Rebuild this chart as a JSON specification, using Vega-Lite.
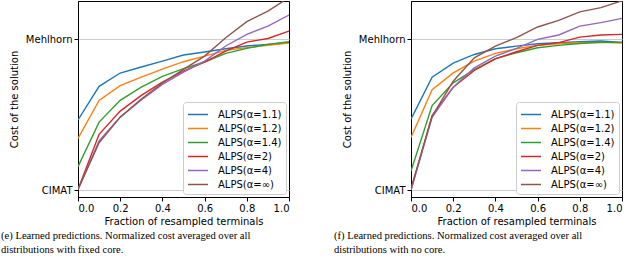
{
  "$schema": "https://vega.github.io/schema/vega-lite/v6.json",
  "padding": {"left": 0, "top": 0, "right": 5, "bottom": 0},
  "background": "white",
  "config": {
    "font": "DejaVu Sans",
    "view": {"stroke": "black", "strokeWidth": 1},
    "axis": {
      "domainColor": "black", "tickColor": "black", "labelColor": "black", "titleColor": "black",
      "labelFontSize": 10, "titleFontSize": 10, "titleFontWeight": "normal", "tickSize": 4,
      "labelPadding": 2, "grid": false, "labelFont": "DejaVu Sans", "titleFont": "DejaVu Sans"
    },
    "legend": {
      "orient": "bottom-right", "offset": 3, "padding": 4, "strokeColor": "#cccccc", "fillColor": "white",
      "cornerRadius": 3, "symbolType": "M-1,0H1.67", "symbolSize": 225, "symbolStrokeWidth": 1.5,
      "labelFontSize": 10, "labelFont": "DejaVu Sans", "labelColor": "black", "rowPadding": 0, "labelOffset": 14, "title": null
    },
    "title": {"font": "Liberation Serif", "fontSize": 10.6, "fontWeight": "normal", "color": "black", "orient": "bottom", "anchor": "start", "frame": "group", "dx": -77, "offset": 5, "lineHeight": 14}
  },
  "datasets": {
    "d": [
      {"p":"e","s":"ALPS(α=1.1)","x":0,"y":0.464},{"p":"e","s":"ALPS(α=1.1)","x":0.1,"y":0.687},{"p":"e","s":"ALPS(α=1.1)","x":0.2,"y":0.775},{"p":"e","s":"ALPS(α=1.1)","x":0.3,"y":0.815},{"p":"e","s":"ALPS(α=1.1)","x":0.4,"y":0.854},{"p":"e","s":"ALPS(α=1.1)","x":0.5,"y":0.894},{"p":"e","s":"ALPS(α=1.1)","x":0.6,"y":0.914},{"p":"e","s":"ALPS(α=1.1)","x":0.7,"y":0.936},{"p":"e","s":"ALPS(α=1.1)","x":0.8,"y":0.954},{"p":"e","s":"ALPS(α=1.1)","x":0.9,"y":0.965},{"p":"e","s":"ALPS(α=1.1)","x":1.0,"y":0.978},
      {"p":"e","s":"ALPS(α=1.2)","x":0,"y":0.342},{"p":"e","s":"ALPS(α=1.2)","x":0.1,"y":0.594},{"p":"e","s":"ALPS(α=1.2)","x":0.2,"y":0.691},{"p":"e","s":"ALPS(α=1.2)","x":0.3,"y":0.748},{"p":"e","s":"ALPS(α=1.2)","x":0.4,"y":0.801},{"p":"e","s":"ALPS(α=1.2)","x":0.5,"y":0.85},{"p":"e","s":"ALPS(α=1.2)","x":0.6,"y":0.887},{"p":"e","s":"ALPS(α=1.2)","x":0.7,"y":0.925},{"p":"e","s":"ALPS(α=1.2)","x":0.8,"y":0.943},{"p":"e","s":"ALPS(α=1.2)","x":0.9,"y":0.958},{"p":"e","s":"ALPS(α=1.2)","x":1.0,"y":0.974},
      {"p":"e","s":"ALPS(α=1.4)","x":0,"y":0.155},{"p":"e","s":"ALPS(α=1.4)","x":0.1,"y":0.45},{"p":"e","s":"ALPS(α=1.4)","x":0.2,"y":0.594},{"p":"e","s":"ALPS(α=1.4)","x":0.3,"y":0.682},{"p":"e","s":"ALPS(α=1.4)","x":0.4,"y":0.753},{"p":"e","s":"ALPS(α=1.4)","x":0.5,"y":0.804},{"p":"e","s":"ALPS(α=1.4)","x":0.6,"y":0.848},{"p":"e","s":"ALPS(α=1.4)","x":0.7,"y":0.905},{"p":"e","s":"ALPS(α=1.4)","x":0.8,"y":0.938},{"p":"e","s":"ALPS(α=1.4)","x":0.9,"y":0.965},{"p":"e","s":"ALPS(α=1.4)","x":1.0,"y":0.982},
      {"p":"e","s":"ALPS(α=2)","x":0,"y":0.004},{"p":"e","s":"ALPS(α=2)","x":0.1,"y":0.369},{"p":"e","s":"ALPS(α=2)","x":0.2,"y":0.523},{"p":"e","s":"ALPS(α=2)","x":0.3,"y":0.627},{"p":"e","s":"ALPS(α=2)","x":0.4,"y":0.715},{"p":"e","s":"ALPS(α=2)","x":0.5,"y":0.788},{"p":"e","s":"ALPS(α=2)","x":0.6,"y":0.848},{"p":"e","s":"ALPS(α=2)","x":0.7,"y":0.92},{"p":"e","s":"ALPS(α=2)","x":0.8,"y":0.98},{"p":"e","s":"ALPS(α=2)","x":0.9,"y":1.004},{"p":"e","s":"ALPS(α=2)","x":1.0,"y":1.053},
      {"p":"e","s":"ALPS(α=4)","x":0,"y":0.004},{"p":"e","s":"ALPS(α=4)","x":0.1,"y":0.325},{"p":"e","s":"ALPS(α=4)","x":0.2,"y":0.483},{"p":"e","s":"ALPS(α=4)","x":0.3,"y":0.596},{"p":"e","s":"ALPS(α=4)","x":0.4,"y":0.7},{"p":"e","s":"ALPS(α=4)","x":0.5,"y":0.781},{"p":"e","s":"ALPS(α=4)","x":0.6,"y":0.854},{"p":"e","s":"ALPS(α=4)","x":0.7,"y":0.954},{"p":"e","s":"ALPS(α=4)","x":0.8,"y":1.031},{"p":"e","s":"ALPS(α=4)","x":0.9,"y":1.086},{"p":"e","s":"ALPS(α=4)","x":1.0,"y":1.159},
      {"p":"e","s":"ALPS(α=∞)","x":0,"y":0.004},{"p":"e","s":"ALPS(α=∞)","x":0.1,"y":0.313},{"p":"e","s":"ALPS(α=∞)","x":0.2,"y":0.483},{"p":"e","s":"ALPS(α=∞)","x":0.3,"y":0.603},{"p":"e","s":"ALPS(α=∞)","x":0.4,"y":0.709},{"p":"e","s":"ALPS(α=∞)","x":0.5,"y":0.799},{"p":"e","s":"ALPS(α=∞)","x":0.6,"y":0.887},{"p":"e","s":"ALPS(α=∞)","x":0.7,"y":1.009},{"p":"e","s":"ALPS(α=∞)","x":0.8,"y":1.115},{"p":"e","s":"ALPS(α=∞)","x":0.9,"y":1.185},{"p":"e","s":"ALPS(α=∞)","x":1.0,"y":1.275},
      {"p":"f","s":"ALPS(α=1.1)","x":0,"y":0.47},{"p":"f","s":"ALPS(α=1.1)","x":0.1,"y":0.747},{"p":"f","s":"ALPS(α=1.1)","x":0.2,"y":0.84},{"p":"f","s":"ALPS(α=1.1)","x":0.3,"y":0.898},{"p":"f","s":"ALPS(α=1.1)","x":0.4,"y":0.936},{"p":"f","s":"ALPS(α=1.1)","x":0.5,"y":0.953},{"p":"f","s":"ALPS(α=1.1)","x":0.6,"y":0.969},{"p":"f","s":"ALPS(α=1.1)","x":0.7,"y":0.976},{"p":"f","s":"ALPS(α=1.1)","x":0.8,"y":0.982},{"p":"f","s":"ALPS(α=1.1)","x":0.9,"y":0.987},{"p":"f","s":"ALPS(α=1.1)","x":1.0,"y":0.978},
      {"p":"f","s":"ALPS(α=1.2)","x":0,"y":0.348},{"p":"f","s":"ALPS(α=1.2)","x":0.1,"y":0.665},{"p":"f","s":"ALPS(α=1.2)","x":0.2,"y":0.776},{"p":"f","s":"ALPS(α=1.2)","x":0.3,"y":0.854},{"p":"f","s":"ALPS(α=1.2)","x":0.4,"y":0.905},{"p":"f","s":"ALPS(α=1.2)","x":0.5,"y":0.936},{"p":"f","s":"ALPS(α=1.2)","x":0.6,"y":0.958},{"p":"f","s":"ALPS(α=1.2)","x":0.7,"y":0.969},{"p":"f","s":"ALPS(α=1.2)","x":0.8,"y":0.976},{"p":"f","s":"ALPS(α=1.2)","x":0.9,"y":0.978},{"p":"f","s":"ALPS(α=1.2)","x":1.0,"y":0.973},
      {"p":"f","s":"ALPS(α=1.4)","x":0,"y":0.126},{"p":"f","s":"ALPS(α=1.4)","x":0.1,"y":0.559},{"p":"f","s":"ALPS(α=1.4)","x":0.2,"y":0.71},{"p":"f","s":"ALPS(α=1.4)","x":0.3,"y":0.798},{"p":"f","s":"ALPS(α=1.4)","x":0.4,"y":0.871},{"p":"f","s":"ALPS(α=1.4)","x":0.5,"y":0.909},{"p":"f","s":"ALPS(α=1.4)","x":0.6,"y":0.942},{"p":"f","s":"ALPS(α=1.4)","x":0.7,"y":0.958},{"p":"f","s":"ALPS(α=1.4)","x":0.8,"y":0.971},{"p":"f","s":"ALPS(α=1.4)","x":0.9,"y":0.978},{"p":"f","s":"ALPS(α=1.4)","x":1.0,"y":0.978},
      {"p":"f","s":"ALPS(α=2)","x":0,"y":0.0},{"p":"f","s":"ALPS(α=2)","x":0.1,"y":0.494},{"p":"f","s":"ALPS(α=2)","x":0.2,"y":0.681},{"p":"f","s":"ALPS(α=2)","x":0.3,"y":0.792},{"p":"f","s":"ALPS(α=2)","x":0.4,"y":0.869},{"p":"f","s":"ALPS(α=2)","x":0.5,"y":0.916},{"p":"f","s":"ALPS(α=2)","x":0.6,"y":0.958},{"p":"f","s":"ALPS(α=2)","x":0.7,"y":0.976},{"p":"f","s":"ALPS(α=2)","x":0.8,"y":1.013},{"p":"f","s":"ALPS(α=2)","x":0.9,"y":1.027},{"p":"f","s":"ALPS(α=2)","x":1.0,"y":1.031},
      {"p":"f","s":"ALPS(α=4)","x":0,"y":0.0},{"p":"f","s":"ALPS(α=4)","x":0.1,"y":0.481},{"p":"f","s":"ALPS(α=4)","x":0.2,"y":0.681},{"p":"f","s":"ALPS(α=4)","x":0.3,"y":0.809},{"p":"f","s":"ALPS(α=4)","x":0.4,"y":0.887},{"p":"f","s":"ALPS(α=4)","x":0.5,"y":0.938},{"p":"f","s":"ALPS(α=4)","x":0.6,"y":0.998},{"p":"f","s":"ALPS(α=4)","x":0.7,"y":1.027},{"p":"f","s":"ALPS(α=4)","x":0.8,"y":1.086},{"p":"f","s":"ALPS(α=4)","x":0.9,"y":1.109},{"p":"f","s":"ALPS(α=4)","x":1.0,"y":1.137},
      {"p":"f","s":"ALPS(α=∞)","x":0,"y":0.011},{"p":"f","s":"ALPS(α=∞)","x":0.1,"y":0.488},{"p":"f","s":"ALPS(α=∞)","x":0.2,"y":0.721},{"p":"f","s":"ALPS(α=∞)","x":0.3,"y":0.876},{"p":"f","s":"ALPS(α=∞)","x":0.4,"y":0.953},{"p":"f","s":"ALPS(α=∞)","x":0.5,"y":1.009},{"p":"f","s":"ALPS(α=∞)","x":0.6,"y":1.08},{"p":"f","s":"ALPS(α=∞)","x":0.7,"y":1.124},{"p":"f","s":"ALPS(α=∞)","x":0.8,"y":1.18},{"p":"f","s":"ALPS(α=∞)","x":0.9,"y":1.208},{"p":"f","s":"ALPS(α=∞)","x":1.0,"y":1.253}
    ]
  },
  "bounds": "flush",
  "spacing": 122,
  "resolve": {"scale": {"color": "independent"}, "legend": {"color": "independent"}},
  "hconcat": [
    {
      "width": 211, "height": 196,
      "data": {"name": "d"},
      "transform": [{"filter": "datum.p == 'e'"}],
      "title": {"text": ["(e) Learned predictions. Normalized cost averaged over all", "distributions with fixed core."]},
      "mark": {"type": "line", "strokeWidth": 1.4, "clip": true},
      "encoding": {
        "x": {"field": "x", "type": "quantitative", "scale": {"domain": [0, 1], "nice": false, "zero": false},
              "axis": {"values": [0, 0.2, 0.4, 0.6, 0.8, 1.0], "format": ".1f", "title": "Fraction of resampled terminals", "titlePadding": 3}},
        "y": {"field": "y", "type": "quantitative", "scale": {"domain": [-0.046, 1.252], "nice": false, "zero": false},
              "axis": {"values": [0, 1], "labelExpr": "datum.value == 0 ? 'CIMAT' : 'Mehlhorn'", "title": "Cost of the solution", "grid": true, "gridColor": "#cccccc", "titlePadding": 6}},
        "color": {"field": "s", "type": "nominal",
                  "scale": {"domain": ["ALPS(α=1.1)", "ALPS(α=1.2)", "ALPS(α=1.4)", "ALPS(α=2)", "ALPS(α=4)", "ALPS(α=∞)"],
                            "range": ["#1f77b4", "#ff7f0e", "#2ca02c", "#d62728", "#9467bd", "#8c564b"]}}
      }
    },
    {
      "width": 211, "height": 196,
      "data": {"name": "d"},
      "transform": [{"filter": "datum.p == 'f'"}],
      "title": {"text": ["(f) Learned predictions. Normalized cost averaged over all", "distributions with no core."]},
      "mark": {"type": "line", "strokeWidth": 1.4, "clip": true},
      "encoding": {
        "x": {"field": "x", "type": "quantitative", "scale": {"domain": [0, 1], "nice": false, "zero": false},
              "axis": {"values": [0, 0.2, 0.4, 0.6, 0.8, 1.0], "format": ".1f", "title": "Fraction of resampled terminals", "titlePadding": 3}},
        "y": {"field": "y", "type": "quantitative", "scale": {"domain": [-0.046, 1.252], "nice": false, "zero": false},
              "axis": {"values": [0, 1], "labelExpr": "datum.value == 0 ? 'CIMAT' : 'Mehlhorn'", "title": "Cost of the solution", "grid": true, "gridColor": "#cccccc", "titlePadding": 6}},
        "color": {"field": "s", "type": "nominal",
                  "scale": {"domain": ["ALPS(α=1.1)", "ALPS(α=1.2)", "ALPS(α=1.4)", "ALPS(α=2)", "ALPS(α=4)", "ALPS(α=∞)"],
                            "range": ["#1f77b4", "#ff7f0e", "#2ca02c", "#d62728", "#9467bd", "#8c564b"]}}
      }
    }
  ]
}
